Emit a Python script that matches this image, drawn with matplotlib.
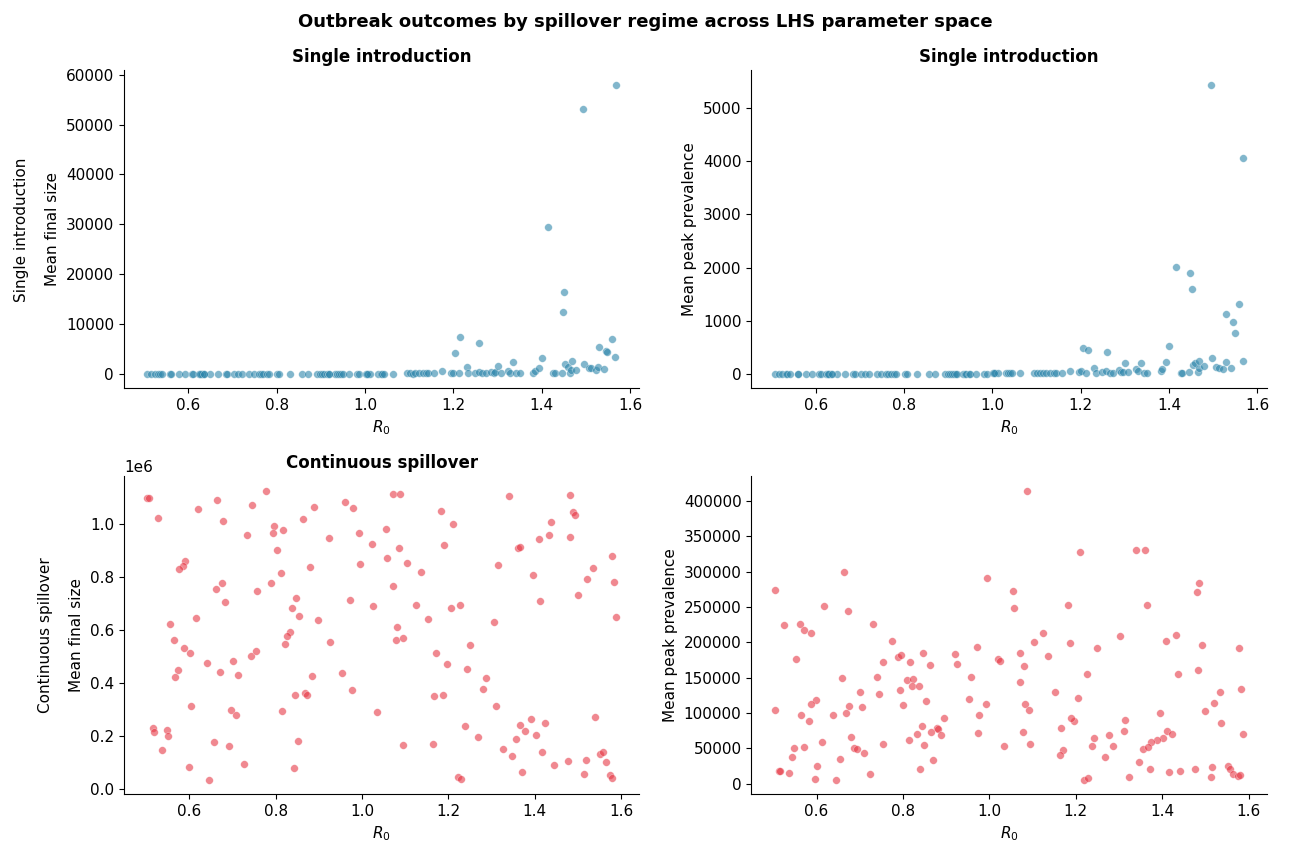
import matplotlib
matplotlib.use("Agg")
import matplotlib.pyplot as plt
import numpy as np

# Single introduction: same LHS draws for final size and peak prevalence
si_r0 = [
    0.507, 0.516, 0.524, 0.532, 0.536, 0.541, 0.559, 0.560, 0.578, 0.592,
    0.608, 0.611, 0.624, 0.628, 0.631, 0.635, 0.649, 0.666, 0.685, 0.688,
    0.703, 0.712, 0.721, 0.738, 0.748, 0.759, 0.764, 0.770, 0.777, 0.782,
    0.801, 0.806, 0.830, 0.857, 0.871, 0.892, 0.899, 0.903, 0.908, 0.914,
    0.919, 0.933, 0.937, 0.941, 0.946, 0.950, 0.963, 0.982, 0.987, 1.002,
    1.006, 1.012, 1.030, 1.035, 1.039, 1.044, 1.063, 1.095, 1.101, 1.108,
    1.114, 1.122, 1.131, 1.139, 1.143, 1.157, 0.627, 0.918, 1.004, 0.636,
    1.175, 1.195, 1.200, 1.212, 1.204, 1.216, 1.231, 1.234, 1.249, 1.257,
    1.259, 1.265, 1.274, 1.286, 1.291, 1.295, 1.301, 1.308, 1.324, 1.329,
    1.336, 1.342, 1.351, 1.381, 1.384, 1.393, 1.400, 1.415, 1.426, 1.430,
    1.445, 1.448, 1.451, 1.453, 1.459, 1.465, 1.467, 1.468, 1.478, 1.494,
    1.496, 1.507, 1.512, 1.522, 1.528, 1.529, 1.540, 1.545, 1.548, 1.558,
    1.567, 1.568,
]
si_final = [
    2, 1, 1, 2, 1, 1, 2, 1, 2, 1,
    2, 1, 3, 2, 2, 1, 2, 3, 2, 2,
    3, 2, 3, 2, 4, 3, 2, 4, 3, 5,
    4, 5, 6, 8, 9, 10, 12, 11, 13, 12,
    15, 18, 14, 20, 16, 22, 25, 30, 28, 35,
    40, 38, 45, 50, 55, 48, 60, 80, 90, 75,
    110, 95, 130, 120, 140, 160, 3, 14, 36, 2,
    600, 150, 250, 100, 4200, 7500, 1330, 150, 200, 350,
    6100, 100, 150, 400, 150, 300, 1500, 150, 600, 200,
    2400, 100, 100, 200, 670, 1260, 3260, 29500, 200, 150,
    180, 12500, 16400, 2000, 1460, 200, 800, 2600, 800, 53200,
    2060, 1200, 1100, 700, 1460, 5300, 930, 4500, 4400, 7000,
    3300, 58000,
]
si_peak = [
    1, 0, 0, 1, 0, 0, 1, 0, 1, 0,
    1, 0, 1, 1, 1, 0, 1, 1, 1, 1,
    1, 1, 1, 1, 2, 1, 1, 2, 1, 2,
    2, 2, 2, 3, 3, 3, 4, 3, 4, 3,
    4, 5, 4, 5, 4, 6, 6, 7, 7, 8,
    9, 8, 10, 11, 12, 10, 12, 15, 18, 14,
    20, 16, 22, 20, 24, 26, 1, 4, 9, 1,
    62, 30, 45, 20, 492, 455, 112, 20, 30, 60,
    418, 15, 20, 70, 40, 30, 200, 40, 90, 60,
    200, 20, 25, 60, 90, 218, 524, 2020, 20, 25,
    30, 1900, 1600, 175, 200, 40, 120, 237, 140, 5440,
    300, 130, 110, 94, 224, 1135, 112, 980, 760, 1315,
    237, 4060,
]

# Continuous spillover, mean final size
cs_final_r0 = [
    0.503, 0.506, 0.528, 0.620, 0.665, 0.678, 0.777, 0.746, 0.733, 0.797,
    0.794, 0.818, 0.803, 0.813, 0.790, 0.863, 0.890, 0.924, 0.880, 0.961,
    0.979, 0.994, 0.996, 1.023, 1.056, 1.071, 1.088, 1.085, 1.058, 1.105,
    1.136, 1.072, 1.184, 1.210, 1.189, 1.340, 1.481, 1.488, 1.493, 1.437,
    1.409, 1.434, 1.482, 1.361, 1.366, 1.315, 1.396, 1.413, 1.534, 1.520,
    1.578, 1.584, 1.501, 1.588, 0.590, 0.585, 0.576, 0.676, 0.662, 0.682,
    0.756, 0.848, 0.839, 0.854, 0.898, 0.973, 1.025, 1.125, 1.153, 1.207,
    1.227, 1.305, 0.555, 0.615, 0.565, 0.588, 0.601, 0.834, 0.826, 0.822,
    0.927, 1.081, 1.078, 1.094, 1.172, 1.250, 1.197, 1.243, 1.287, 1.280,
    0.642, 0.702, 0.744, 0.755, 0.574, 0.568, 0.672, 0.712, 0.884, 0.954,
    0.977, 0.867, 0.873, 0.846, 1.167, 1.187, 1.311, 0.605, 0.697, 0.708,
    0.816, 1.035, 1.539, 1.391, 1.423, 1.367, 1.377, 1.239, 0.517, 0.518,
    0.548, 0.551, 1.404, 1.269, 1.356, 0.658, 0.692, 0.851, 1.095, 1.165,
    0.538, 1.326, 1.348, 1.417, 1.552, 1.558, 1.564, 1.518, 1.477, 1.444,
    0.726, 0.599, 0.842, 1.371, 1.513, 1.574, 1.580, 0.646, 1.222, 1.229,
]
cs_final = [
    1098000, 1100000, 1025000, 1056000, 1093000, 1011000, 1126000, 1073000, 961000, 995000,
    967000, 980000, 901000, 814000, 776000, 1019000, 1064000, 947000, 840000, 1085000,
    1061000, 965000, 850000, 926000, 982000, 1116000, 1114000, 912000, 873000, 855000,
    821000, 767000, 1049000, 1000000, 922000, 1108000, 1109000, 1045000, 1035000, 1009000,
    944000, 959000, 951000, 910000, 915000, 846000, 809000, 708000, 833000, 794000,
    880000, 783000, 731000, 650000, 860000, 841000, 831000, 779000, 757000, 705000,
    747000, 720000, 682000, 654000, 639000, 715000, 689000, 694000, 642000, 685000,
    693000, 630000, 624000, 645000, 563000, 533000, 514000, 594000, 578000, 548000,
    556000, 610000, 564000, 570000, 514000, 544000, 470000, 451000, 420000, 377000,
    476000, 484000, 501000, 521000, 449000, 424000, 441000, 429000, 426000, 439000,
    372000, 363000, 353000, 353000, 350000, 356000, 311000, 313000, 296000, 278000,
    294000, 291000, 272000, 262000, 247000, 241000, 218000, 237000, 229000, 213000,
    224000, 200000, 204000, 195000, 188000, 177000, 163000, 180000, 164000, 170000,
    148000, 149000, 124000, 140000, 132000, 139000, 100000, 108000, 104000, 91000,
    95000, 83000, 79000, 63000, 55000, 51000, 39000, 33000, 43000, 38000,
]

# Continuous spillover, mean peak prevalence
cs_peak_r0 = [
    1.086, 1.209, 1.340, 1.361, 0.663, 0.995, 0.503, 1.055, 1.057, 1.486,
    1.480, 1.364, 1.183, 0.617, 0.672, 0.524, 0.562, 0.572, 0.588, 0.730,
    0.552, 0.775, 0.788, 0.795, 0.754, 0.816, 0.846, 0.863, 0.921, 0.925,
    0.971, 1.021, 1.025, 1.070, 1.080, 1.103, 1.124, 1.135, 1.187, 1.249,
    1.303, 1.408, 1.433, 1.492, 1.578, 0.659, 0.741, 0.744, 0.810, 0.823,
    0.820, 0.837, 0.792, 0.958, 1.071, 1.225, 1.436, 1.482, 1.583, 1.534,
    1.151, 1.206, 0.700, 0.598, 0.586, 0.675, 0.669, 0.705, 0.853, 0.801,
    0.639, 0.565, 0.503, 0.582, 0.993, 0.952, 0.977, 1.083, 1.092, 1.500,
    1.520, 1.395, 1.537, 1.314, 1.167, 1.195, 1.188, 0.896, 0.844, 0.878,
    0.882, 0.866, 0.887, 0.832, 0.680, 0.974, 1.077, 1.311, 1.412, 1.422,
    1.403, 1.389, 1.375, 1.588, 1.277, 1.242, 0.548, 0.571, 0.612, 0.686,
    0.694, 0.753, 0.710, 0.814, 0.849, 1.035, 1.094, 1.237, 1.286, 1.355,
    1.367, 1.171, 1.164, 0.544, 0.654, 0.869, 1.268, 1.346, 0.602, 0.514,
    0.516, 0.536, 0.596, 0.644, 0.724, 0.840, 1.220, 1.229, 1.324, 1.371,
    1.416, 1.442, 1.476, 1.516, 1.512, 1.552, 1.558, 1.563, 1.575, 1.580,
]
cs_peak = [
    414000, 327400, 331000, 329800, 299300, 291300, 274500, 272600, 247800, 283900,
    271200, 252000, 252000, 251500, 244500, 224400, 226200, 217300, 212700, 225300,
    176100, 201400, 179400, 182200, 172400, 172400, 184600, 167700, 183600, 169100,
    193900, 176100, 174200, 185500, 166300, 200500, 213600, 180800, 199500, 191600,
    208400, 201900, 210300, 196700, 192500, 149400, 151300, 127400, 146600, 148500,
    137700, 138200, 132600, 151300, 144300, 154600, 155500, 161100, 134000, 130200,
    129300, 120800, 129700, 119000, 112400, 110100, 99300, 109100, 117600, 111000,
    96500, 96500, 104900, 88100, 112400, 119900, 97000, 112000, 104900, 102100,
    113800, 99300, 85700, 90400, 78200, 89000, 92300, 93200, 81500, 79200,
    77300, 73100, 69300, 70700, 66000, 71700, 73100, 74500, 74900, 70700,
    65100, 61800, 59000, 70700, 68400, 65100, 50100, 51500, 59500, 50100,
    49600, 56700, 43100, 61800, 54300, 53900, 56200, 53400, 52900, 48700,
    51500, 48200, 40800, 37500, 35100, 34200, 37900, 30900, 24800, 18300,
    17300, 15000, 6600, 5200, 13600, 21500, 5600, 8400, 9400, 20100,
    16400, 17800, 21500, 23000, 9800, 24400, 21100, 13600, 10300, 11700,
]

blue = '#2E86AB'
red = '#E63946'

fig, axes = plt.subplots(2, 2, figsize=(12.9, 8.47), dpi=100)
fig.subplots_adjust(left=0.096, right=0.982, top=0.917, bottom=0.062,
                    wspace=0.217, hspace=0.277)

panels = [
    (axes[0, 0], si_r0, si_final, blue, 'Single introduction', 'Single introduction\n\nMean final size'),
    (axes[0, 1], si_r0, si_peak, blue, 'Single introduction', 'Mean peak prevalence'),
    (axes[1, 0], cs_final_r0, cs_final, red, 'Continuous spillover', 'Continuous spillover\n\nMean final size'),
    (axes[1, 1], cs_peak_r0, cs_peak, red, None, 'Mean peak prevalence'),
]

for ax, x, y, color, title, ylabel in panels:
    ax.scatter(x, y, s=30, color=color, alpha=0.6, edgecolors='white', linewidths=0.3)
    if title:
        ax.set_title(title, fontsize=12, fontweight='bold')
    ax.set_xlabel(r'$R_0$', fontsize=11)
    ax.set_ylabel(ylabel, fontsize=11, linespacing=1.05)
    ax.tick_params(labelsize=11)
    ax.spines['top'].set_visible(False)
    ax.spines['right'].set_visible(False)

axes[1, 0].yaxis.get_offset_text().set_fontsize(11)

fig.suptitle('Outbreak outcomes by spillover regime across LHS parameter space',
             fontsize=13, fontweight='bold', y=0.985)

plt.savefig('out.png', dpi=100)
